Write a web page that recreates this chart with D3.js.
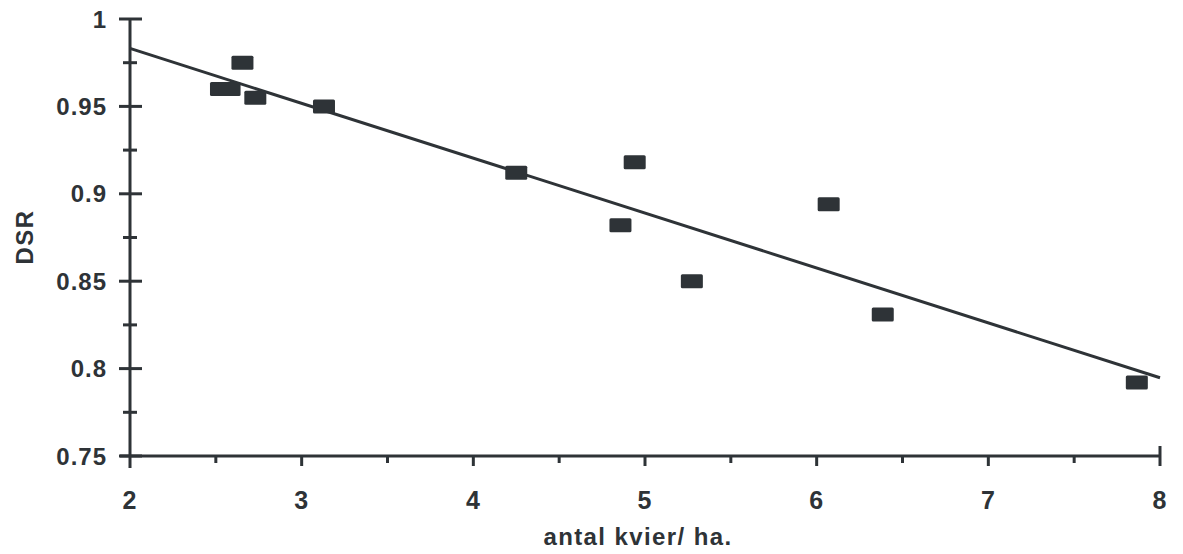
<!DOCTYPE html>
<html>
<head>
<meta charset="utf-8">
<script src="https://cdn.jsdelivr.net/npm/d3@7"></script>
<style>
  html, body { margin: 0; padding: 0; background: #ffffff; }
  svg { display: block; }
  text { font-family: "Liberation Sans", Arial, Helvetica, sans-serif; font-weight: bold; fill: #2e3337; }
</style>
</head>
<body>
<svg id="chart" width="1183" height="554"></svg>
<script>
// Heifers per hectare vs. daily survival rate (DSR)
const heifersPerHa = [2.53, 2.58, 2.655, 2.73, 3.13, 4.25, 4.857, 4.94, 5.273, 6.07, 6.385, 7.865];
const dsr          = [0.960, 0.960, 0.975, 0.955, 0.950, 0.912, 0.882, 0.918, 0.850, 0.894, 0.831, 0.792];

const xTicks = [2, 3, 4, 5, 6, 7, 8];
const xMinorTicks = [2.5, 3.5, 4.5, 5.5, 6.5, 7.5];
const yTicks = [0.75, 0.8, 0.85, 0.9, 0.95, 1];
const yMinorTicks = [0.775, 0.825, 0.875, 0.925, 0.975];
const yTickLabels = ["0.75", "0.8", "0.85", "0.9", "0.95", "1"];

const xTitle = "antal kvier/ ha.";
const yTitle = "DSR";

const ink = "#2e3337";
const svg = d3.select("#chart");

const x = d3.scaleLinear().domain([2, 8]).range([130, 1160]);
const y = d3.scaleLinear().domain([0.75, 1]).range([456, 19]);

// Least-squares fit through the points
const n = heifersPerHa.length;
const mx = d3.mean(heifersPerHa), my = d3.mean(dsr);
let sxy = 0, sxx = 0;
for (let i = 0; i < n; i++) {
  sxy += (heifersPerHa[i] - mx) * (dsr[i] - my);
  sxx += (heifersPerHa[i] - mx) ** 2;
}
const slope = sxy / sxx;
const intercept = my - slope * mx;
const fit = xv => intercept + slope * xv;

// Y axis
const yAxis = svg.append("g").attr("transform", `translate(${x(2)},0)`);
yAxis.append("line").attr("x1", 0).attr("x2", 0).attr("y1", y(1)).attr("y2", y(0.75) + 12)
  .attr("stroke", ink).attr("stroke-width", 3);
yAxis.selectAll("line.major").data(yTicks).join("line").attr("class", "major")
  .attr("x1", -11).attr("x2", 12).attr("y1", d => y(d)).attr("y2", d => y(d))
  .attr("stroke", ink).attr("stroke-width", 3);
yAxis.selectAll("line.minor").data(yMinorTicks).join("line").attr("class", "minor")
  .attr("x1", -7).attr("x2", 7).attr("y1", d => y(d)).attr("y2", d => y(d))
  .attr("stroke", ink).attr("stroke-width", 3);
yAxis.selectAll("text").data(yTicks).join("text")
  .attr("x", -23).attr("y", d => y(d)).attr("dy", "0.36em")
  .attr("text-anchor", "end").attr("font-size", 24).attr("letter-spacing", 1)
  .text((d, i) => yTickLabels[i]);

// X axis
const xAxis = svg.append("g").attr("transform", `translate(0,${y(0.75)})`);
xAxis.append("line").attr("x1", x(2) - 10).attr("x2", x(8) + 1).attr("y1", 0).attr("y2", 0)
  .attr("stroke", ink).attr("stroke-width", 3);
xAxis.selectAll("line.major").data(xTicks.slice(1)).join("line").attr("class", "major")
  .attr("x1", d => x(d)).attr("x2", d => x(d)).attr("y1", d => d === 8 ? -10 : 0).attr("y2", 10)
  .attr("stroke", ink).attr("stroke-width", 3);
xAxis.selectAll("line.minor").data(xMinorTicks).join("line").attr("class", "minor")
  .attr("x1", d => x(d)).attr("x2", d => x(d)).attr("y1", 0).attr("y2", 7)
  .attr("stroke", ink).attr("stroke-width", 3);
xAxis.selectAll("text").data(xTicks).join("text")
  .attr("x", d => x(d)).attr("y", 53)
  .attr("text-anchor", "middle").attr("font-size", 25).attr("letter-spacing", 1)
  .text(d => d);

// Axis titles
svg.append("text").attr("x", 638).attr("y", 545).attr("text-anchor", "middle")
  .attr("font-size", 24).attr("letter-spacing", 1.4).text(xTitle);
svg.append("text").attr("transform", "translate(33,237) rotate(-90)")
  .attr("text-anchor", "middle").attr("font-size", 24).attr("letter-spacing", 1.4).text(yTitle);

// Regression line
svg.append("line")
  .attr("x1", x(2)).attr("y1", y(fit(2)))
  .attr("x2", x(8)).attr("y2", y(fit(8)))
  .attr("stroke", ink).attr("stroke-width", 3);

// Data markers
svg.selectAll("rect.pt").data(heifersPerHa).join("rect").attr("class", "pt")
  .attr("x", d => x(d) - 11).attr("y", (d, i) => y(dsr[i]) - 7)
  .attr("width", 22).attr("height", 14).attr("rx", 1.5)
  .attr("fill", ink);
</script>
</body>
</html>
